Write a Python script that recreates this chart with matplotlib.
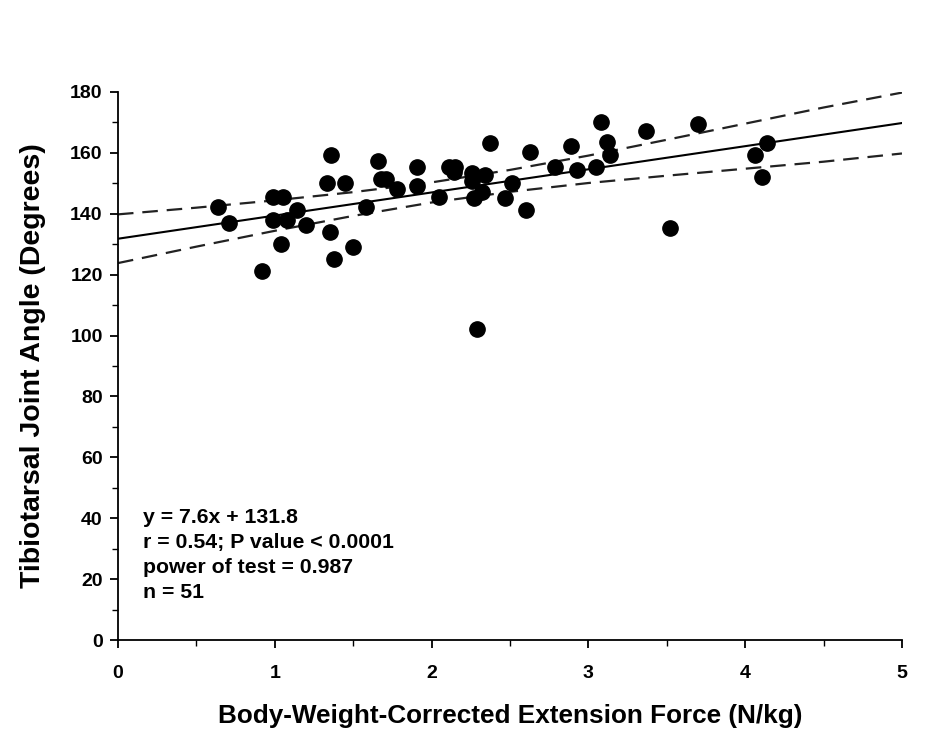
import numpy as np
import matplotlib

matplotlib.use("Agg")
import matplotlib.pyplot as plt
from matplotlib.ticker import MultipleLocator

# Scatter data (force in N/kg, angle in degrees)
force = [0.64, 0.71, 0.92, 0.99, 1.05, 0.99, 1.08, 1.04, 1.14, 1.20,
         1.33, 1.36, 1.35, 1.38, 1.45, 1.50, 1.58, 1.66, 1.68, 1.71,
         1.78, 1.91, 1.91, 2.05, 2.11, 2.14, 2.15, 2.26, 2.26, 2.27,
         2.32, 2.34, 2.37, 2.29, 2.47, 2.51, 2.60, 2.63, 2.79, 2.89,
         2.93, 3.05, 3.08, 3.12, 3.14, 3.37, 3.52, 3.70, 4.06, 4.11, 4.14]
angle = [142.1, 136.9, 121.2, 145.4, 145.4, 138.0, 138.0, 130.1, 141.2, 136.2,
         150.0, 159.2, 134.0, 125.1, 150.0, 129.2, 142.2, 157.3, 151.3, 151.3,
         148.1, 155.4, 149.1, 145.4, 155.5, 153.8, 155.4, 153.3, 150.6, 145.1,
         147.3, 152.8, 163.2, 102.1, 145.1, 150.0, 141.2, 160.4, 155.3, 162.3,
         154.4, 155.3, 170.3, 163.5, 159.3, 167.3, 135.3, 169.5, 159.3, 152.2, 163.4]

# Regression line as printed on the chart
slope = 7.6
intercept = 131.8

# 95% confidence band
band_x = [0, 0.5, 1, 1.5, 2, 2.5, 3, 3.5, 4, 4.5, 5]
band_upper = [139.8, 142.0, 144.4, 147.1, 150.3, 154.4, 159.1, 164.3, 169.6, 174.9, 179.8]
band_lower = [123.8, 129.2, 134.4, 139.3, 143.7, 147.2, 150.1, 152.5, 154.8, 157.1, 159.8]

stats_text = "y = 7.6x + 131.8\nr = 0.54; P value < 0.0001\npower of test = 0.987\nn = 51"

plt.rcParams["font.family"] = ["Liberation Sans", "DejaVu Sans"]
plt.rcParams["font.weight"] = "bold"

fig = plt.figure(figsize=(9.34, 7.37), dpi=100)
ax = fig.add_axes([0.1263, 0.1316, 0.8394, 0.7436])

# fitted line and confidence band
line_x = np.array([0, 5])
ax.plot(line_x, slope * line_x + intercept, color="black", lw=1.5)
ax.plot(band_x, band_upper, color="#222222", lw=1.6, dashes=(7, 4))
ax.plot(band_x, band_lower, color="#222222", lw=1.6, dashes=(7, 4))

ax.plot(force, angle, "o", color="black", ms=11, zorder=3)

ax.set_xlim(0, 5)
ax.set_ylim(0, 180)
ax.xaxis.set_major_locator(MultipleLocator(1))
ax.xaxis.set_minor_locator(MultipleLocator(0.5))
ax.yaxis.set_major_locator(MultipleLocator(20))
ax.yaxis.set_minor_locator(MultipleLocator(10))

for side in ["top", "right"]:
    ax.spines[side].set_visible(False)
for side in ["left", "bottom"]:
    ax.spines[side].set_linewidth(1.3)
    ax.spines[side].set_clip_on(False)

ax.tick_params(which="major", direction="out", length=6, width=1.3, labelsize=14)
ax.tick_params(which="minor", direction="out", length=4, width=1.0)
ax.tick_params(axis="x", which="major", pad=12)
ax.tick_params(axis="y", which="major", pad=5)

ax.set_xlabel("Body-Weight-Corrected Extension Force (N/kg)", fontsize=18.8, fontweight="bold")
ax.set_ylabel("Tibiotarsal Joint Angle (Degrees)", fontsize=20.5, fontweight="bold")
ax.xaxis.set_label_coords(0.5, -0.117)
ax.yaxis.set_label_coords(-0.092, 0.50)

ax.text(0.032, 0.24, stats_text, transform=ax.transAxes, fontsize=15.3,
        fontweight="bold", va="top", ha="left", linespacing=1.38)

fig.savefig("out.png", dpi=100)
